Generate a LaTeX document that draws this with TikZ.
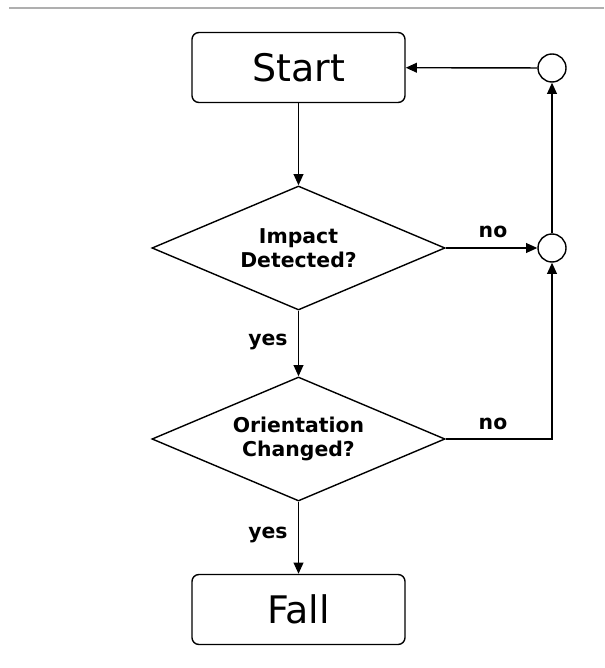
\documentclass[tikz,border=0pt]{standalone}
\usepackage{fontspec}
\setmainfont{DejaVu Sans}
\usepackage{tikz}
\usetikzlibrary{positioning, arrows.meta, shapes.geometric}
\definecolor{rulegray}{RGB}{175, 175, 175}

\tikzset{
  termbox/.style={draw, line width=1pt, rounded corners=5pt, minimum width=5.325cm,
    minimum height=1.75cm, font=\fontsize{27}{32}\selectfont},
  decbox/.style={draw, diamond, shape aspect=2.36, line width=1pt, minimum width=7.325cm,
    minimum height=3.1cm, inner sep=0pt, align=center, font=\fontsize{14.5}{17}\selectfont\bfseries},
  joinpt/.style={draw, circle, line width=1pt, minimum size=0.7cm, inner sep=0pt},
  flowlabel/.style={font=\fontsize{14.5}{17}\selectfont\bfseries},
  flow/.style={line width=1pt, -{Triangle[length=8pt, width=7pt]}}
}

\begin{document}
\begin{tikzpicture}[x=0.025cm, y=-0.025cm]
    \useasboundingbox (0,0) rectangle (604,668);
    \draw[rulegray, line width=0.8pt] (9,8) -- (604,8);

    \node[termbox] (start)  at (298.5, 67.5)  {Start};
    \node[decbox]  (impact) at (298.5, 248)   {Impact\\Detected?};
    \node[decbox]  (orient) at (298.5, 439)   {Orientation\\Changed?};
    \node[termbox] (fall)   at (298.5, 609.5) {Fall};

    \node[joinpt] (jtop) at (552, 68)  {};
    \node[joinpt] (jmid) at (552, 248) {};
    \coordinate (corner) at (552, 439);

    \draw[flow] (start) -- (impact);
    \draw[flow] (impact) -- (orient);
    \draw[flow] (orient) -- (fall);
    \draw[flow] (impact.east) -- (jmid);
    \draw[flow] (orient.east) -- (corner) -- (jmid);
    \draw[flow] (jmid) -- (jtop);
    \draw[flow] (jtop) -- (start);

    \node[flowlabel] (yes1) at (268, 342) {yes};
    \node[flowlabel] (yes2) at (268, 535) {yes};
    \node[flowlabel] (no1)  at (493, 232) {no};
    \node[flowlabel] (no2)  at (493, 424) {no};
\end{tikzpicture}
\end{document}
